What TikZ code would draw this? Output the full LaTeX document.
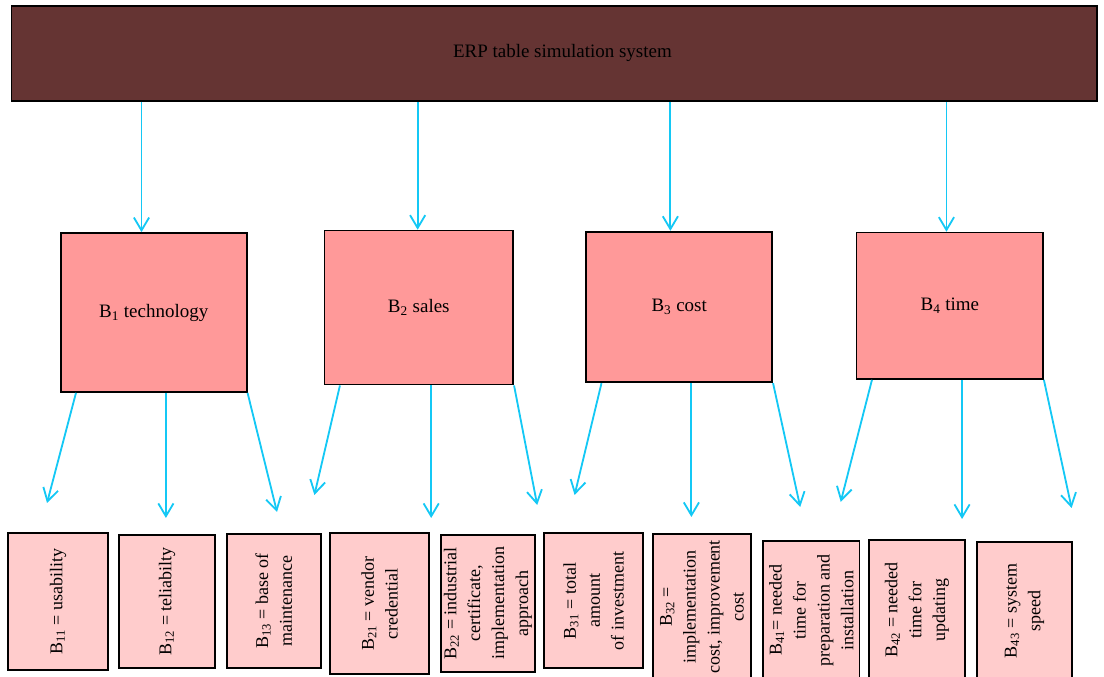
\documentclass[tikz,border=0pt]{standalone}
\usepackage{fontspec}
\setmainfont{Liberation Serif}
\usetikzlibrary{arrows.meta, calc}
\definecolor{erpbrown}{RGB}{101,52,51}
\definecolor{catred}{RGB}{255,153,153}
\definecolor{subpink}{RGB}{255,204,204}
\definecolor{linkblue}{RGB}{20,200,245}
\tikzset{
  box/.style={draw=black, rectangle, align=center, inner sep=1pt, line width=1.2pt, font=\fontsize{13.5}{17}\selectfont},
  topbox/.style={box, fill=erpbrown, minimum width=27.14cm, minimum height=2.38cm},
  catbox/.style={box, fill=catred, minimum width=4.65cm},
  subbox/.style={box, fill=subpink, rotate=90, font=\fontsize{12.8}{17}\selectfont},
  arrow/.style={-{Straight Barb[length=3.2mm, width=3.8mm]}, line width=1.3pt, draw=linkblue}
}

\begin{document}
\begin{tikzpicture}

\useasboundingbox (0,0) rectangle (27.6,16.925);

\node[topbox] (erp) at (13.86,15.59) {\hspace*{0.4cm}ERP table simulation system};

\node[catbox, minimum height=3.975cm] (tech) at (3.8425,9.1125) {B\textsubscript{1} technology};
\node[catbox, minimum width=4.72cm, minimum height=3.85cm] (sales) at (10.47,9.235) {B\textsubscript{2} sales};
\node[catbox, minimum height=3.765cm] (cost) at (16.98,9.25) {B\textsubscript{3} cost};
\node[catbox, minimum width=4.66cm, minimum height=3.66cm] (time) at (23.746,9.28) {B\textsubscript{4} time};

% sub-criteria (text turned upwards)
\node[subbox, minimum width=3.425cm, minimum height=2.5cm] (b11) at (1.45,1.8875) {B\textsubscript{11} = usability};
\node[subbox, minimum width=3.325cm, minimum height=2.4cm] (b12) at (4.175,1.8875) {B\textsubscript{12} = teliabilty};
\node[subbox, minimum width=3.35cm, minimum height=2.35cm] (b13) at (6.8425,1.9) {B\textsubscript{13} = base of\\maintenance};
\node[subbox, minimum width=3.5175cm, minimum height=2.4825cm] (b21) at (9.49,1.834) {B\textsubscript{21} = vendor\\credential};
\node[subbox, minimum width=3.4175cm, minimum height=2.3575cm] (b22) at (12.196,1.841) {B\textsubscript{22} = industrial\\certificate,\\implementation\\approach};
\node[subbox, minimum width=3.375cm, minimum height=2.4825cm] (b31) at (14.841,1.905) {B\textsubscript{31} = total\\amount\\of investment};
\node[subbox, minimum width=3.65cm, minimum height=2.4575cm] (b32) at (17.546,1.75) {B\textsubscript{32} =\\implementation\\cost, improvement\\cost};
\node[subbox, minimum width=3.4825cm, minimum height=2.405cm] (b41) at (20.285,1.666) {B\textsubscript{41}= needed\\time for\\preparation and\\installation};
\node[subbox, minimum width=3.5cm, minimum height=2.4cm] (b42) at (22.925,1.675) {B\textsubscript{42} = needed\\time for\\updating};
\node[subbox, minimum width=3.45cm, minimum height=2.375cm] (b43) at (25.6125,1.65) {B\textsubscript{43} = system\\speed};

% free ends of the lower arrows
\coordinate (e11) at (1.175,4.35);
\coordinate (e12) at (4.15,3.975);
\coordinate (e13) at (6.925,4.125);
\coordinate (e21) at (7.86,4.55);
\coordinate (e22) at (10.73,3.975);
\coordinate (e23) at (13.43,4.3);
\coordinate (e31) at (14.365,4.55);
\coordinate (e32) at (17.285,4.0);
\coordinate (e33) at (20.005,4.25);
\coordinate (e41) at (21.0175,4.38);
\coordinate (e42) at (24.0675,3.95);
\coordinate (e43) at (26.79,4.225);

\foreach \b/\i/\f in {tech/1/0.435, sales/2/0.494, cost/3/0.453, time/4/0.482} {
  \coordinate (in\i) at ($(\b.north west)!\f!(\b.north east)$);
  \draw[arrow] (in\i |- erp.south) -- (in\i);
  \coordinate (mid\i) at ($(\b.south west)!0.565!(\b.south east)$);
  \draw[arrow] ($(\b.south west)!0.086!(\b.south east)$) -- (e\i1);
  \draw[arrow] (mid\i) -- (mid\i |- e\i2);
  \draw[arrow] (\b.south east) -- (e\i3);
}

\end{tikzpicture}
\end{document}
